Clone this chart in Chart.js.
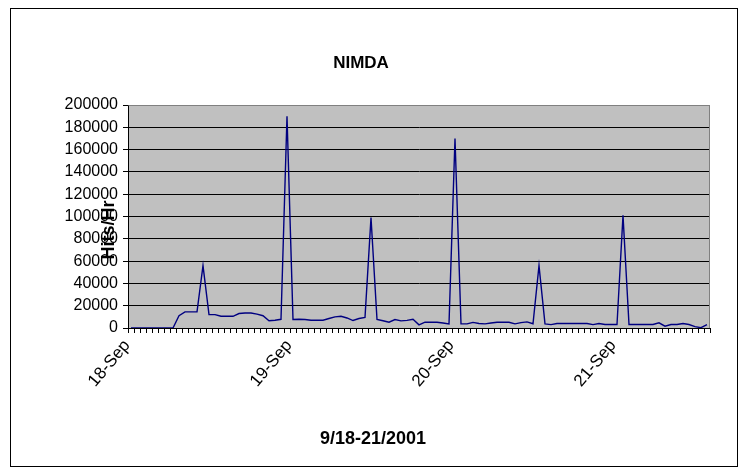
<!DOCTYPE html>
<html>
<head>
<meta charset="utf-8">
<title>NIMDA</title>
<script src="https://cdn.jsdelivr.net/npm/chart.js@4/dist/chart.umd.min.js"></script>
<style>
  html, body { margin: 0; padding: 0; background: #fff; }
</style>
</head>
<body>
<canvas id="nimdaChart" width="748" height="474"></canvas>
<script>
// hourly samples starting 18-Sep 00:00
const days = ['18-Sep', '19-Sep', '20-Sep', '21-Sep', '22-Sep'];
const hitsPerHour = [
  0, 0, 0, 0, 0, 0, 0, 0, 11000, 14500,
  14500, 14500, 56000, 12000, 12000, 10500, 10500, 10500, 13000, 13500,
  13500, 12500, 11000, 6500, 7000, 7800, 190000, 7600, 7800, 7600,
  7000, 7000, 7000, 8500, 10000, 10500, 9000, 6700, 8500, 9500,
  99000, 7600, 6500, 5200, 7600, 6400, 6800, 7800, 2800, 5200,
  5200, 5200, 4500, 3700, 170000, 3700, 3700, 5000, 4000, 3700,
  4500, 5200, 5200, 5200, 3700, 4800, 5500, 3800, 56000, 3700,
  3000, 4000, 4000, 4000, 4000, 4000, 4000, 3000, 4000, 3100,
  3100, 3100, 101000, 3100, 3100, 3100, 3100, 3100, 4600, 1600,
  3100, 3100, 4000, 3100, 1200, 300, 3100
];
const labelEvery = 27; // Excel shows every 27th category label
const yTitle = 'Hits/Hr';
const xTitle = '9/18-21/2001';

const categories = hitsPerHour.map((v, i) => {
  const hh = String(i % 24).padStart(2, '0');
  return days[Math.floor(i / 24)] + ' ' + hh + ':00';
});

const FONT = "'Liberation Sans', Arial, sans-serif";

// grey plot area, axis titles and the frame round the whole chart
const excelLook = {
  id: 'excelLook',
  beforeDraw(chart) {
    const { ctx, chartArea: a } = chart;
    ctx.save();
    ctx.fillStyle = '#c0c0c0';
    ctx.fillRect(a.left, a.top, a.right - a.left, a.bottom - a.top);
    ctx.restore();
  },
  beforeDatasetsDraw(chart) {
    const { ctx, chartArea: a } = chart;
    ctx.save();
    ctx.strokeStyle = '#808080';
    ctx.lineWidth = 1;
    ctx.beginPath();
    ctx.moveTo(Math.round(a.left) + 0.5, Math.round(a.top) + 0.5);
    ctx.lineTo(Math.round(a.right) - 0.5, Math.round(a.top) + 0.5);
    ctx.lineTo(Math.round(a.right) - 0.5, Math.round(a.bottom));
    ctx.stroke();
    ctx.restore();
  },
  afterDraw(chart) {
    const ctx = chart.ctx;
    ctx.save();
    ctx.fillStyle = '#000';
    ctx.font = 'bold 18px ' + FONT;
    ctx.textAlign = 'center';
    ctx.textBaseline = 'middle';
    ctx.fillText(xTitle, 373, 439);
    ctx.translate(109, 230);
    ctx.rotate(-Math.PI / 2);
    ctx.fillText(yTitle, 0, 0);
    ctx.restore();

    ctx.save();
    ctx.strokeStyle = '#000';
    ctx.lineWidth = 1;
    ctx.strokeRect(10.5, 8.5, 727, 458);
    ctx.restore();
  }
};

new Chart(document.getElementById('nimdaChart'), {
  type: 'line',
  data: {
    labels: categories,
    datasets: [{
      label: yTitle,
      data: hitsPerHour,
      borderColor: '#000080',
      borderWidth: 1.4,
      pointRadius: 0,
      tension: 0,
      fill: false
    }]
  },
  options: {
    responsive: false,
    animation: false,
    layout: { padding: { left: 12, right: 38, top: 0, bottom: 25 } },
    plugins: {
      legend: { display: false },
      tooltip: { enabled: false },
      title: {
        display: true,
        text: 'NIMDA',
        color: '#000',
        font: { family: FONT, size: 17, weight: 'bold' },
        padding: { top: 52.8, bottom: 31.8 }
      }
    },
    scales: {
      x: {
        type: 'category',
        offset: true,
        grid: { drawOnChartArea: false, drawTicks: true, tickLength: 5, offset: true, color: '#000' },
        border: { color: '#000' },
        ticks: {
          autoSkip: false,
          minRotation: 50,
          maxRotation: 50,
          labelOffset: -4,
          color: '#000',
          padding: 3,
          font: { family: FONT, size: 17 },
          callback: (v, i) => i % labelEvery === 0 ? categories[i].split(' ')[0] : ''
        },
        afterFit: s => { s.height = 121; }
      },
      y: {
        min: 0,
        max: 200000,
        grid: {
          color: c => c.tick && c.tick.value === 200000 ? '#808080' : '#000',
          tickColor: '#000',
          tickLength: 5
        },
        border: { color: '#000' },
        ticks: {
          stepSize: 20000,
          color: '#000',
          padding: 5,
          font: { family: FONT, size: 16 },
          callback: v => String(v)
        },
        afterFit: s => { s.width = 116; }
      }
    }
  },
  plugins: [excelLook]
});
</script>
</body>
</html>
